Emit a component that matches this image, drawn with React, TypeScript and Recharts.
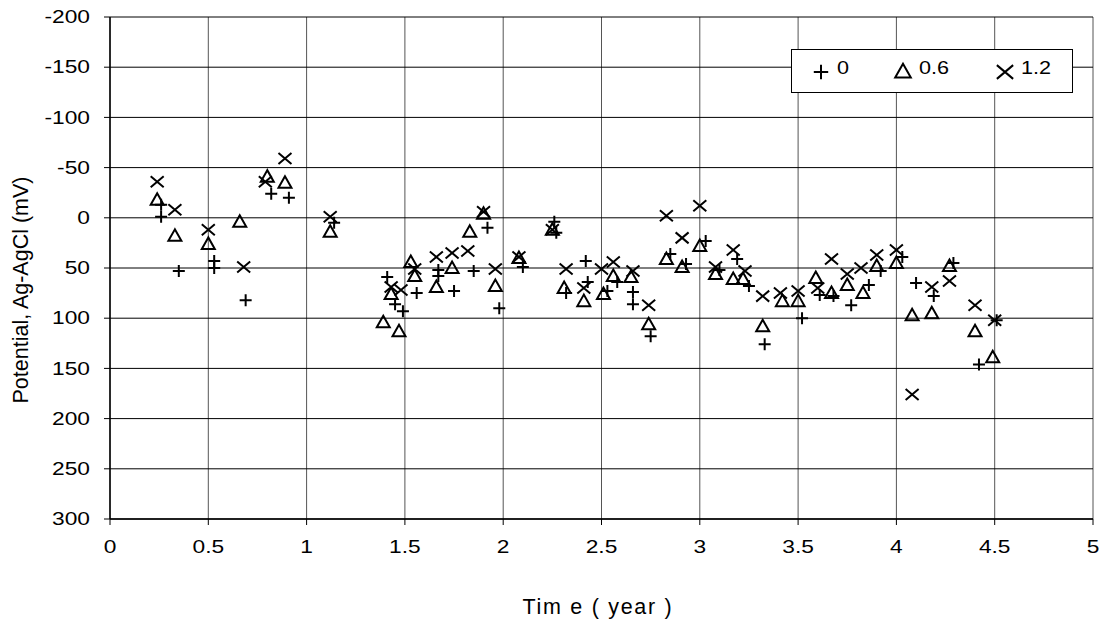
import React from 'react';
import { ScatterChart, Scatter, XAxis, YAxis, CartesianGrid } from 'recharts';

const seriesNames = ['0', '0.6', '1.2'];

const plusPoints: [number, number][] = [
  [0.26, -13], [0.26, -1], [0.35, 53], [0.53, 43], [0.53, 50], [0.69, 82], [0.82, -24], [0.91, -20],
  [1.14, 5], [1.41, 59], [1.45, 86], [1.49, 93], [1.56, 75], [1.67, 52], [1.67, 58], [1.75, 73],
  [1.85, 53], [1.92, 10], [1.98, 90], [2.1, 49], [2.26, 4], [2.27, 15], [2.32, 75], [2.42, 43],
  [2.43, 64], [2.53, 73], [2.58, 64], [2.66, 74], [2.66, 86], [2.75, 118], [2.85, 36], [2.93, 46],
  [3.03, 23], [3.1, 52], [3.19, 41], [3.25, 68], [3.33, 126], [3.52, 100], [3.61, 77], [3.68, 78],
  [3.77, 87], [3.86, 67], [3.92, 53], [4.03, 39], [4.1, 65], [4.19, 78], [4.29, 45], [4.42, 146],
  [4.51, 102],
];

const trianglePoints: [number, number][] = [
  [0.24, -18], [0.33, 18], [0.5, 26], [0.66, 4], [0.8, -41], [0.89, -35], [1.12, 14], [1.39, 104],
  [1.43, 76], [1.47, 113], [1.53, 44], [1.55, 58], [1.66, 69], [1.74, 50], [1.83, 14], [1.9, -4],
  [1.96, 68], [2.08, 40], [2.25, 12], [2.31, 70], [2.41, 83], [2.51, 76], [2.56, 58], [2.65, 59],
  [2.74, 106], [2.83, 41], [2.91, 49], [3.0, 28], [3.08, 56], [3.17, 61], [3.22, 61], [3.32, 108],
  [3.42, 83], [3.5, 83], [3.59, 60], [3.67, 75], [3.75, 67], [3.83, 75], [3.9, 48], [4.0, 45],
  [4.08, 97], [4.18, 95], [4.27, 48], [4.4, 113], [4.49, 139],
];

const crossPoints: [number, number][] = [
  [0.24, -36], [0.33, -8], [0.5, 12], [0.68, 49], [0.79, -36], [0.89, -59], [1.12, -1], [1.43, 69],
  [1.48, 72], [1.55, 51], [1.66, 39], [1.74, 35], [1.82, 33], [1.9, -6], [1.96, 51], [2.08, 39],
  [2.25, 12], [2.32, 51], [2.41, 70], [2.5, 51], [2.56, 44], [2.66, 53], [2.74, 87], [2.83, -2],
  [2.91, 20], [3.0, -12], [3.08, 49], [3.17, 32], [3.23, 53], [3.32, 78], [3.41, 75], [3.5, 73],
  [3.6, 70], [3.67, 41], [3.75, 56], [3.82, 50], [3.9, 37], [4.0, 32], [4.08, 176], [4.18, 69],
  [4.27, 63], [4.4, 87], [4.5, 102],
];

const xTicks = [0, 0.5, 1, 1.5, 2, 2.5, 3, 3.5, 4, 4.5, 5];
const yTicks = [-200, -150, -100, -50, 0, 50, 100, 150, 200, 250, 300];

const xTitle = 'Tim e ( year )';
const yTitle = 'Potential, Ag-AgCl (mV)';

const toData = (pts: [number, number][]) => pts.map(([x, y]) => ({ x, y }));

const FONT = '"Liberation Sans", Arial, sans-serif';

const PlusShape = (props: any) => {
  const { cx, cy, s = 1 } = props;
  const h = 6 * s;
  return <path d={`M${cx - h},${cy}H${cx + h}M${cx},${cy - h}V${cy + h}`} stroke="#000" strokeWidth={2} fill="none" />;
};
const TriShape = (props: any) => {
  const { cx, cy, s = 1 } = props;
  return <path d={`M${cx},${cy - 6.5 * s}L${cx - 6.5 * s},${cy + 5 * s}L${cx + 6.5 * s},${cy + 5 * s}Z`} stroke="#000" strokeWidth={2} fill="none" />;
};
const CrossShape = (props: any) => {
  const { cx, cy, s = 1 } = props;
  const w = 6.5 * s;
  const h = 5.5 * s;
  return <path d={`M${cx - w},${cy - h}L${cx + w},${cy + h}M${cx + w},${cy - h}L${cx - w},${cy + h}`} stroke="#000" strokeWidth={2} fill="none" />;
};

const XTick = (props: any) => {
  const { x, y, payload } = props;
  return (
    <text x={x} y={y} dy="0.71em" textAnchor="middle" fontSize={17.5} fontFamily={FONT} fill="#000"
      transform={`translate(${x} ${y}) scale(1.3 1) translate(${-x} ${-y})`}>
      {String(payload.value)}
    </text>
  );
};
const YTick = (props: any) => {
  const { x, y, payload } = props;
  return (
    <text x={x} y={y} dy="0.355em" textAnchor="end" fontSize={17.5} fontFamily={FONT} fill="#000"
      transform={`translate(${x} ${y}) scale(1.3 1) translate(${-x} ${-y})`}>
      {String(payload.value)}
    </text>
  );
};

const LegendMarker = ({ kind }: { kind: number }) => (
  <svg width={20} height={20} style={{ display: 'block' }}>
    {kind === 0 && <PlusShape cx={10} cy={10} s={1.2} />}
    {kind === 1 && <TriShape cx={10} cy={10.5} s={1.2} />}
    {kind === 2 && <CrossShape cx={10} cy={10} s={1.25} />}
  </svg>
);

const LEG_LEFT = 791;
const LEG_TOP = 49;
const legendMarkerX = [821, 903, 1005];
const legendMarkerY = [72, 71, 72];
const legendTextX = [837, 919, 1021];

export default function App() {
  return (
    <div style={{ position: 'absolute', left: 0, top: 0, width: 1112, height: 623, background: '#fff' }}>
      <ScatterChart width={1112} height={623} margin={{ top: 17, right: 19, left: 40, bottom: 44 }}>
        <CartesianGrid horizontal={false} vertical={true} stroke="#555" strokeWidth={1} />
        <CartesianGrid horizontal={true} vertical={false} stroke="#000" strokeWidth={1} />
        <XAxis
          type="number"
          dataKey="x"
          domain={[0, 5]}
          ticks={xTicks}
          interval={0}
          height={60}
          tickSize={6}
          tickMargin={16}
          stroke="#000"
          axisLine={{ stroke: '#000', strokeWidth: 1.5 }}
          tickLine={{ stroke: '#000' }}
          tick={<XTick />}
          allowDataOverflow
          label={() => (
            <text x={598} y={614} textAnchor="middle" fontSize={21.5} fontFamily={FONT} letterSpacing={1.7} fill="#000">
              {xTitle}
            </text>
          )}
        />
        <YAxis
          type="number"
          dataKey="y"
          domain={[-200, 300]}
          reversed
          ticks={yTicks}
          interval={0}
          width={70}
          tickSize={6}
          tickMargin={14}
          stroke="#000"
          axisLine={{ stroke: '#000', strokeWidth: 1.5 }}
          tickLine={{ stroke: '#000' }}
          tick={<YTick />}
          allowDataOverflow
          label={() => (
            <text x={21} y={290} textAnchor="middle" dominantBaseline="central" fontSize={21.5} fontFamily={FONT}
              fill="#000" transform="rotate(-90 21 290)">
              {yTitle}
            </text>
          )}
        />
        <Scatter name={seriesNames[0]} data={toData(plusPoints)} shape={<PlusShape />} isAnimationActive={false} />
        <Scatter name={seriesNames[1]} data={toData(trianglePoints)} shape={<TriShape />} isAnimationActive={false} />
        <Scatter name={seriesNames[2]} data={toData(crossPoints)} shape={<CrossShape />} isAnimationActive={false} />
      </ScatterChart>
      <div style={{
        position: 'absolute', left: LEG_LEFT, top: LEG_TOP, width: 282, height: 44, boxSizing: 'border-box',
        border: '1px solid #000', background: '#fff',
      }}>
        {seriesNames.map((name, i) => (
          <React.Fragment key={name}>
            <div style={{ position: 'absolute', left: legendMarkerX[i] - LEG_LEFT - 1 - 10, top: legendMarkerY[i] - LEG_TOP - 1 - 10 }}>
              <LegendMarker kind={i} />
            </div>
            <div style={{
              position: 'absolute', left: legendTextX[i] - LEG_LEFT - 1, top: 8, fontFamily: FONT, fontSize: 18,
              lineHeight: '20px', transform: 'scaleX(1.2)', transformOrigin: 'left center', color: '#000',
            }}>
              {name}
            </div>
          </React.Fragment>
        ))}
      </div>
    </div>
  );
}
